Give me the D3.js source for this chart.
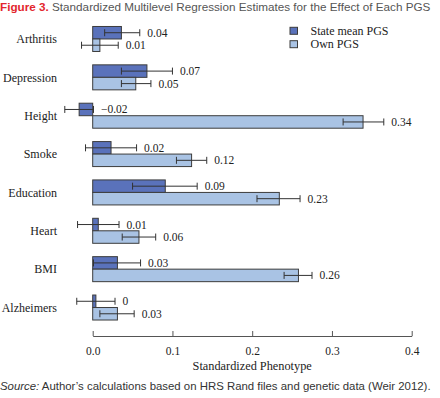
<!DOCTYPE html>
<html>
<head>
<meta charset="utf-8">
<script src="https://cdn.jsdelivr.net/npm/d3@7"></script>
<style>
  html, body { margin: 0; padding: 0; background: #fff; }
  svg { display: block; }
</style>
</head>
<body>
<svg id="chart" width="440" height="398"></svg>
<script>
// ---- data ----
const categories = ["Arthritis", "Depression", "Height", "Smoke", "Education", "Heart", "BMI", "Alzheimers"];
const seriesNames = ["State mean PGS", "Own PGS"];
const stateMean   = [0.036, 0.068, -0.017, 0.023, 0.091, 0.007, 0.031, 0.004];
const stateMeanLo = [0.015, 0.036, -0.035, -0.009, 0.050, -0.019, 0.001, -0.020];
const stateMeanHi = [0.059, 0.100, 0.001, 0.055, 0.131, 0.033, 0.060, 0.028];
const ownPGS      = [0.009, 0.054, 0.339, 0.124, 0.234, 0.058, 0.258, 0.031];
const ownPGSLo    = [-0.014, 0.036, 0.314, 0.105, 0.206, 0.037, 0.240, 0.009];
const ownPGSHi    = [0.032, 0.073, 0.365, 0.143, 0.260, 0.079, 0.275, 0.052];
const xTicks = [0, 0.1, 0.2, 0.3, 0.4];
const titleLead = "Figure 3.";
const titleText = "Standardized Multilevel Regression Estimates for the Effect of Each PGS";
const xTitle = "Standardized Phenotype";
const sourceLead = "Source:";
const sourceText = "Author\u2019s calculations based on HRS Rand files and genetic data (Weir 2012).";

const colors = ["#5a72bb", "#a9c3e4"];
const serif = "'Liberation Serif', 'Times New Roman', serif";
const sans = "'Liberation Sans', Arial, sans-serif";

const svg = d3.select("#chart");

const rows = [];
categories.forEach((c, i) => {
  rows.push({cat: c, s: seriesNames[0], v: stateMean[i], lo: stateMeanLo[i], hi: stateMeanHi[i]});
  rows.push({cat: c, s: seriesNames[1], v: ownPGS[i], lo: ownPGSLo[i], hi: ownPGSHi[i]});
});

const x = d3.scaleLinear().domain([0, 0.4]).range([92.7, 411.7]);
const y = d3.scaleBand().domain(categories).range([19.8, 326.7]).paddingInner(0).paddingOuter(0);
const sub = d3.scaleBand().domain(seriesNames).range([0, 25]);
const color = d3.scaleOrdinal().domain(seriesNames).range(colors);
const yOff = d => y(d.cat) + y.bandwidth() / 2 - 12.5 + sub(d.s);

const fmt = v => {
  const r = Math.round(v * 100) / 100;
  return r === 0 ? "0" : d3.format(".2f")(r);
};

// bars
svg.append("g").selectAll("rect").data(rows).join("rect")
  .attr("x", d => Math.min(x(0), x(d.v)))
  .attr("width", d => Math.abs(x(d.v) - x(0)))
  .attr("y", d => yOff(d))
  .attr("height", sub.bandwidth())
  .attr("fill", d => color(d.s))
  .attr("stroke", "#3c3c3c")
  .attr("stroke-width", 1);

// error bars
const eg = svg.append("g").attr("stroke", "#333").attr("stroke-width", 1).attr("fill", "none");
rows.forEach(d => {
  const cy = yOff(d) + sub.bandwidth() / 2;
  eg.append("line").attr("x1", x(d.lo)).attr("x2", x(d.hi)).attr("y1", cy).attr("y2", cy);
  eg.append("line").attr("x1", x(d.lo)).attr("x2", x(d.lo)).attr("y1", cy - 3.5).attr("y2", cy + 3.5);
  eg.append("line").attr("x1", x(d.hi)).attr("x2", x(d.hi)).attr("y1", cy - 3.5).attr("y2", cy + 3.5);
});

// value labels
svg.append("g").selectAll("text").data(rows).join("text")
  .attr("x", d => Math.max(x(d.hi), x(d.v)) + 7.5)
  .attr("y", d => yOff(d) + sub.bandwidth() / 2)
  .attr("dy", "0.35em")
  .attr("font-family", serif)
  .attr("font-size", 11.5)
  .attr("fill", "#222")
  .text(d => fmt(d.v));

// category labels
svg.append("g").selectAll("text").data(categories).join("text")
  .attr("x", 57)
  .attr("y", d => y(d) + y.bandwidth() / 2)
  .attr("dy", "0.35em")
  .attr("text-anchor", "end")
  .attr("font-family", serif)
  .attr("font-size", 12)
  .attr("fill", "#222")
  .text(d => d);

// x axis
const axis = svg.append("g").attr("transform", "translate(0,336)")
  .call(d3.axisBottom(x).tickValues(xTicks).tickFormat(d3.format(".1f"))
    .tickSizeInner(-5).tickSizeOuter(0).tickPadding(11));
axis.select(".domain").attr("stroke", "#555");
axis.selectAll(".tick line").attr("stroke", "#555");
axis.selectAll(".tick text").attr("font-family", serif).attr("font-size", 11.5).attr("fill", "#222");

svg.append("text")
  .attr("x", (x(0) + x(0.4)) / 2).attr("y", 369.5)
  .attr("text-anchor", "middle")
  .attr("font-family", serif).attr("font-size", 12.3).attr("fill", "#222")
  .text(xTitle);

// legend
const lg = svg.append("g");
seriesNames.forEach((s, i) => {
  lg.append("rect").attr("x", 290).attr("y", 27.3 + i * 13.4).attr("width", 7.5).attr("height", 7)
    .attr("fill", color(s)).attr("stroke", "#3c3c3c").attr("stroke-width", 1);
  lg.append("text").attr("x", 310.5).attr("y", 30.8 + i * 13.4).attr("dy", "0.35em")
    .attr("font-family", serif).attr("font-size", 12).attr("fill", "#222").text(s);
});

// title
const title = svg.append("text").attr("x", 0).attr("y", 10.5)
  .attr("font-family", sans).attr("font-size", 12);
title.append("tspan").attr("fill", "#e3262d").attr("font-weight", "bold").text(titleLead);
title.append("tspan").attr("fill", "#555").text(" " + titleText);
const tw = title.node().getComputedTextLength();
title.attr("font-size", 12 * 431 / tw);

// source
const src = svg.append("text").attr("x", 0).attr("y", 389.5)
  .attr("font-family", sans).attr("font-size", 11).attr("fill", "#333");
src.append("tspan").attr("font-style", "italic").text(sourceLead);
src.append("tspan").text(" " + sourceText);
const sw = src.node().getComputedTextLength();
src.attr("font-size", 11 * 431 / sw);
</script>
</body>
</html>
